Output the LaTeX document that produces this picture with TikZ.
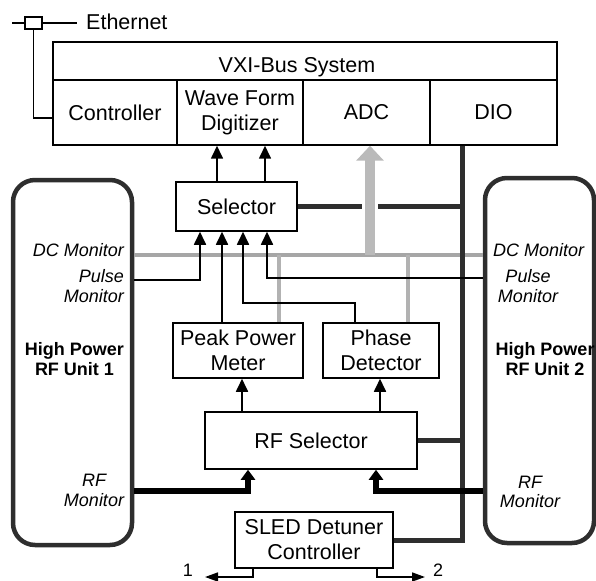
\documentclass[tikz,border=0pt]{standalone}
\usepackage{fontspec}
\setmainfont{Liberation Sans}
\usetikzlibrary{arrows.meta,calc}
\begin{document}
\begin{tikzpicture}[x=1pt,y=-1pt,
  box/.style={draw, line width=1.5pt, inner sep=0pt, align=center, font=\fontsize{21.5}{25}\selectfont},
  lab/.style={inner sep=0pt, font=\fontsize{18}{19.5}\selectfont\itshape},
  blab/.style={inner sep=0pt, align=center, font=\fontsize{18}{20}\selectfont\bfseries},
  unit/.style={draw=black!82, line width=4.5pt, rounded corners=22pt, inner sep=0pt},
  wire/.style={line width=1.6pt},
  sig/.style={line width=1.7pt, -{Triangle[width=12pt,length=13pt]}},
  outsig/.style={line width=1.7pt, -{Triangle[width=9pt,length=13pt]}},
  rfsig/.style={line width=5.5pt, -{Triangle[width=14pt,length=10pt]}},
  bus/.style={draw=black!82, line width=5pt},
  mon/.style={draw=black!35, line width=3.5pt},
  monv/.style={draw=black!30, line width=4pt},
  adcarr/.style={draw=black!27, line width=10pt, -{Triangle[width=27pt,length=15pt]}},
  gap/.style={draw=white, line width=16pt}
]
\useasboundingbox (0,0) rectangle (596,580);

% helper coordinates
\coordinate (dcy) at (0,255);
\coordinate (p1y) at (0,280);
\coordinate (p2y) at (0,278);
\coordinate (pdy) at (0,303);
\coordinate (rfy) at (0,491);
\coordinate (busx) at (462,0);
\coordinate (xa) at (200,0);
\coordinate (xb) at (222,0);
\coordinate (xc) at (243,0);
\coordinate (xd) at (267,0);
\coordinate (xg1) at (279,0);
\coordinate (xg2) at (408,0);
\coordinate (xadc) at (370,0);
\coordinate (xr1) at (242,0);
\coordinate (xr2) at (380,0);
\coordinate (xf1) at (248,0);
\coordinate (xf2) at (376,0);
\coordinate (xs1) at (253,0);
\coordinate (xs2) at (377,0);
\coordinate (xpd) at (355,0);
\coordinate (out1) at (205,577);
\coordinate (out2) at (425,577);
\coordinate (ethL) at (12,23);
\coordinate (ethR) at (77,23);

% VXI bus system
\node[box, minimum width=504pt, minimum height=38pt] (bar) at (305,61) {};
\node[inner sep=0pt, text depth=0pt, font=\fontsize{21.5}{25}\selectfont] (vxitxt) at (297,64.5) {VXI-Bus System};
\node[box, minimum width=124pt, minimum height=65pt] (ctrl) at (115,112.5) {Controller};
\node[box, minimum width=126pt, minimum height=65pt] (wfd) at (240,112.5) {Wave Form\\Digitizer};
\node[box, minimum width=127pt, minimum height=65pt] (adc) at (366.5,112.5) {ADC};
\node[box, minimum width=127pt, minimum height=65pt] (dio) at (493.5,112.5) {DIO};

% Ethernet
\node[draw, line width=1.5pt, minimum width=17pt, minimum height=12pt, inner sep=0pt] (eth) at (33.5,23) {};
\draw[wire] (ethL) -- (eth.west);
\draw[wire] (eth.east) -- (ethR);
\node[anchor=west, inner sep=0pt, font=\fontsize{21.5}{25}\selectfont] (ethtxt) at (86,22) {Ethernet};
\draw[wire] (eth.south) |- ($(ctrl.west)+(0,5.5)$);

% inner boxes
\node[box, minimum width=121pt, minimum height=49pt] (sel) at (236.5,206.5) {Selector};
\node[box, minimum width=130pt, minimum height=55pt] (ppm) at (238,350.5) {Peak Power\\Meter};
\node[box, minimum width=116pt, minimum height=55pt] (pd) at (381,350.5) {Phase\\Detector};
\node[box, minimum width=212pt, minimum height=57pt] (rfs) at (311,440.5) {RF Selector};
\node[box, minimum width=158pt, minimum height=56pt] (sled) at (314,540) {SLED Detuner\\Controller};

% RF units
\node[unit, minimum width=119pt, minimum height=365pt] (u1) at (72.5,362.5) {};
\node[unit, minimum width=109pt, minimum height=365pt] (u2) at (539.5,360.5) {};

% DC monitor lines (grey)
\draw[mon] (u1.east |- dcy) -- (u2.west |- dcy);
\draw[monv] (xg1 |- dcy) -- (xg1 |- ppm.north);
\draw[monv] (xg2 |- dcy) -- (xg2 |- pd.north);

% DIO bus
\draw[bus] (busx |- dio.south) |- (sled.east);
\draw[bus] (sel.east) -- (sel.east -| busx);
\draw[bus] (rfs.east) -- (rfs.east -| busx);

% ADC grey arrow
\draw[gap] ($(xadc |- sel.east)+(0,-9)$) -- ($(xadc |- sel.east)+(0,9)$);
\draw[adcarr] (xadc |- dcy) -- (xadc |- adc.south);

% signals
\draw[sig] ([xshift=-19.5pt]sel.north) -- ([xshift=-19.5pt]sel.north |- wfd.south);
\draw[sig] ([xshift=28.5pt]sel.north) -- ([xshift=28.5pt]sel.north |- wfd.south);
\draw[sig] (u1.east |- p1y) -| (xa |- sel.south);
\draw[sig] (xb |- ppm.north) -- (xb |- sel.south);
\draw[sig] (xpd |- pd.north) |- (xc |- pdy) -- (xc |- sel.south);
\draw[sig] (u2.west |- p2y) -| (xd |- sel.south);
\draw[sig] (xr1 |- rfs.north) -- (xr1 |- ppm.south);
\draw[sig] (xr2 |- rfs.north) -- (xr2 |- pd.south);
\draw[rfsig] (u1.east |- rfy) -| (xf1 |- rfs.south);
\draw[rfsig] (u2.west |- rfy) -| (xf2 |- rfs.south);
\draw[outsig] (xs1 |- sled.south) |- (out1);
\draw[outsig] (xs2 |- sled.south) |- (out2);
\node[inner sep=0pt, font=\fontsize{18}{20}\selectfont] (n1) at (188,570) {1};
\node[inner sep=0pt, font=\fontsize{18}{20}\selectfont] (n2) at (438,570) {2};

% unit labels
\node[lab, anchor=east] (dc1) at (124,250.5) {DC Monitor};
\node[lab, align=right, anchor=east] (pm1) at (124,286) {Pulse\\Monitor};
\node[blab] (hp1) at (74.5,359.5) {High Power\\RF Unit 1};
\node[lab, align=center] (rm1) at (94,490.5) {RF\\Monitor};
\node[lab, anchor=west] (dc2) at (493,250.5) {DC Monitor};
\node[lab, align=center] (pm2) at (528,286) {Pulse\\Monitor};
\node[blab] (hp2) at (545,359.5) {High Power\\RF Unit 2};
\node[lab, align=center] (rm2) at (530,492) {RF\\Monitor};
\end{tikzpicture}
\end{document}
